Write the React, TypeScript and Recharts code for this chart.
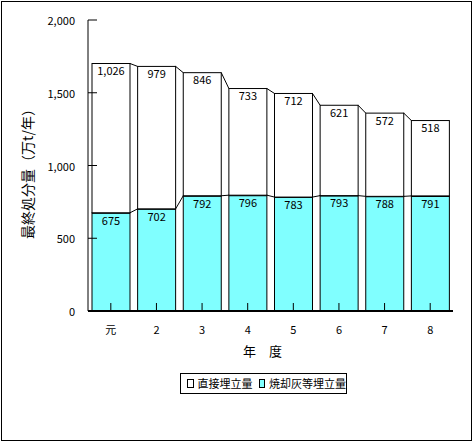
import { Bar, BarChart, LabelList, XAxis, YAxis } from 'recharts'

const years = ['元', '2', '3', '4', '5', '6', '7', '8']
const ashLandfill = [675, 702, 792, 796, 783, 793, 788, 791]
const directLandfill = [1026, 979, 846, 733, 712, 621, 572, 518]
const yTicks = [0, 500, 1000, 1500, 2000]

const data = years.map((year, i) => ({ year, ash: ashLandfill[i], direct: directLandfill[i] }))

const W = 473
const H = 442
const margin = { top: 20, right: 20, bottom: 101, left: 8 }
const Y_AXIS_W = 80
const BAND = (W - margin.left - Y_AXIS_W - margin.right) / years.length
const FONT = "'Noto Sans CJK JP', sans-serif"
const CYAN = '#80ffff'

const fmt = (v: number) => String(v).replace(/\B(?=(\d{3})+(?!\d))/g, ',')

function SeriesBar(props: any) {
  const { x, y, width, height, index, payload, fill, series } = props
  const own = series === 'ash' ? payload.ash : payload.direct
  const ppu = height / own
  const base = series === 'ash' ? y + height : y + height + payload.ash * ppu
  const next = data[index + 1]
  let link = null
  if (next) {
    const nextTotal = series === 'ash' ? next.ash : next.ash + next.direct
    link = <line x1={x + width} y1={y} x2={x + BAND} y2={base - nextTotal * ppu} stroke="#000" strokeWidth={1} />
  }
  return (
    <g>
      <rect x={x} y={y} width={width} height={height} fill={fill} stroke="#000" strokeWidth={1} />
      {series === 'ash' && <line x1={x} y1={y} x2={x + width} y2={y} stroke="#000" strokeWidth={2} />}
      {link}
    </g>
  )
}

function YTick({ x, y, payload }: any) {
  return (
    <g>
      <line x1={x} y1={y} x2={x + 9} y2={y} stroke="#000" />
      <text x={x - 13} y={y} textAnchor="end" dominantBaseline="central" fontSize={11} fontFamily={FONT} fill="#000">
        {fmt(payload.value)}
      </text>
    </g>
  )
}

function XTick({ x, y, payload }: any) {
  return (
    <g>
      <line x1={x} y1={y} x2={x} y2={y - 8} stroke="#000" />
      <text x={x} y={y + 23} textAnchor="middle" fontSize={11} fontFamily={FONT} fill="#000">
        {payload.value}
      </text>
    </g>
  )
}

function LegendBox() {
  const swatch = (color: string) => (
    <span style={{ display: 'inline-block', width: 7, height: 7, border: '1px solid #000', background: color, marginRight: 4 }} />
  )
  return (
    <div
      style={{
        position: 'absolute', left: 180, top: 373, width: 159, height: 19, border: '1px solid #000',
        fontFamily: FONT, fontSize: 11, display: 'flex', alignItems: 'center', paddingLeft: 6, boxSizing: 'content-box',
        whiteSpace: 'nowrap', lineHeight: '19px',
      }}
    >
      {swatch('#fff')}<span style={{ marginRight: 6 }}>直接埋立量</span>
      {swatch(CYAN)}<span>焼却灰等埋立量</span>
    </div>
  )
}

export default function App() {
  return (
    <div style={{ position: 'absolute', left: 0, top: 0, width: W, height: H, background: '#fff' }}>
      <div style={{ position: 'absolute', left: 1, top: 1, width: 469, height: 438, border: '1px solid #000' }} />
      <BarChart width={W} height={H} data={data} margin={margin} barSize={38}>
        <XAxis
          dataKey="year"
          height={30}
          axisLine={{ stroke: '#000', strokeWidth: 2 }}
          tickLine={false}
          tickSize={0}
          tickMargin={0}
          tick={<XTick />}
          interval={0}
          label={{
            content: ({ viewBox }: any) => (
              <text x={viewBox.x + viewBox.width / 2 - 8} y={viewBox.y + 45} textAnchor="middle" fontSize={13} fontFamily={FONT} fill="#000">
                年　度
              </text>
            ),
          }}
        />
        <XAxis xAxisId="top" dataKey="year" orientation="top" height={0} tick={false} tickLine={false} axisLine={{ stroke: '#000' }} />
        <YAxis
          width={Y_AXIS_W}
          domain={[0, 2000]}
          ticks={yTicks}
          axisLine={{ stroke: '#000' }}
          tickLine={false}
          tickSize={0}
          tickMargin={0}
          tick={<YTick />}
          interval={0}
          label={{
            content: ({ viewBox }: any) => {
              const cx = viewBox.x + 19
              const cy = viewBox.y + viewBox.height / 2 + 5
              return (
                <text x={cx} y={cy} transform={`rotate(-90 ${cx} ${cy})`} textAnchor="middle" dominantBaseline="central" fontSize={14} fontFamily={FONT} fill="#000">
                  最終処分量（万t/年）
                </text>
              )
            },
          }}
        />
        <YAxis yAxisId="right" orientation="right" width={0} tick={false} tickLine={false} axisLine={{ stroke: '#000' }} />
        <Bar dataKey="ash" stackId="a" fill={CYAN} isAnimationActive={false} shape={(p: any) => <SeriesBar {...p} series="ash" />}>
          <LabelList dataKey="ash" position="insideTop" offset={4} formatter={fmt as any} fill="#000" fontSize={11} fontFamily={FONT} />
        </Bar>
        <Bar dataKey="direct" stackId="a" fill="#fff" isAnimationActive={false} shape={(p: any) => <SeriesBar {...p} series="direct" />}>
          <LabelList dataKey="direct" position="insideTop" offset={4} formatter={fmt as any} fill="#000" fontSize={11} fontFamily={FONT} />
        </Bar>
      </BarChart>
      <LegendBox />
    </div>
  )
}
